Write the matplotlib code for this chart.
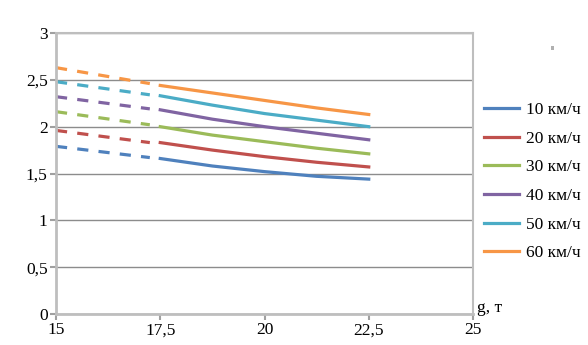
import matplotlib
matplotlib.use("Agg")
import matplotlib.pyplot as plt
from matplotlib.ticker import FuncFormatter
from matplotlib.patches import Rectangle

labels = ["10 км/ч", "20 км/ч", "30 км/ч", "40 км/ч", "50 км/ч", "60 км/ч"]
colors = ["#4F81BD", "#C0504D", "#9BBB59", "#8064A2", "#4BACC6", "#F79646"]

x_dash = [15, 17.25]
y_dash = [
    [1.79, 1.67],
    [1.96, 1.83],
    [2.16, 2.02],
    [2.32, 2.19],
    [2.48, 2.34],
    [2.63, 2.46],
]
x_solid = [17.5, 18.75, 20, 21.25, 22.5]
y_solid = [
    [1.66, 1.58, 1.52, 1.47, 1.44],
    [1.83, 1.75, 1.68, 1.62, 1.57],
    [2.00, 1.91, 1.84, 1.77, 1.71],
    [2.18, 2.08, 2.00, 1.93, 1.86],
    [2.33, 2.23, 2.14, 2.07, 2.00],
    [2.44, 2.36, 2.28, 2.20, 2.13],
]
x_ticks = [15, 17.5, 20, 22.5, 25]
y_ticks = [0, 0.5, 1, 1.5, 2, 2.5, 3]

plt.rcParams['font.family'] = ['Liberation Serif', 'DejaVu Serif']

fig = plt.figure(figsize=(5.88, 3.45), dpi=100)
ax = fig.add_axes([56/588, 31/345, (473-56)/588, (314-33)/345])

handles = []
for yd, ys, c, lab in zip(y_dash, y_solid, colors, labels):
    ax.plot(x_dash, yd, color=c, lw=2.3, dashes=(3.5, 3.2), solid_capstyle='butt')
    h, = ax.plot(x_solid, ys, color=c, lw=2.3, label=lab)
    handles.append(h)

ax.set_xlim(15, 25)
ax.set_ylim(0, 3)
ax.set_xticks(x_ticks)
ax.set_yticks(y_ticks)
fmt = FuncFormatter(lambda v, p: (f"{v:g}").replace(".", ","))
ax.xaxis.set_major_formatter(fmt)
ax.yaxis.set_major_formatter(fmt)
ax.tick_params(labelsize=12.5, length=4, color="#A0A0A0", width=1.5, pad=2)
ax.grid(axis='y', color="#8C8C8C", lw=1)
ax.set_axisbelow(True)
for s in ax.spines.values():
    s.set_color("#BEBEBE")
    s.set_linewidth(1.5)
ax.spines['left'].set_linewidth(2)
ax.spines['bottom'].set_linewidth(2)

ax.text(1.01, 0.008, "g, т", transform=ax.transAxes, fontsize=12.5, va='baseline', ha='left')

fig.legend(handles=handles, loc='upper left', bbox_to_anchor=(484/588, 1 - 102/345),
           frameon=False, fontsize=12.5, handlelength=2.0, labelspacing=0.72,
           handletextpad=0.4, borderaxespad=0, borderpad=0)

fig.patches.append(Rectangle((551/588, 1 - 50/345), 3/588, 4/345, transform=fig.transFigure,
                             facecolor="#B0B0B0", edgecolor='none'))

fig.savefig("out.png", dpi=100)
